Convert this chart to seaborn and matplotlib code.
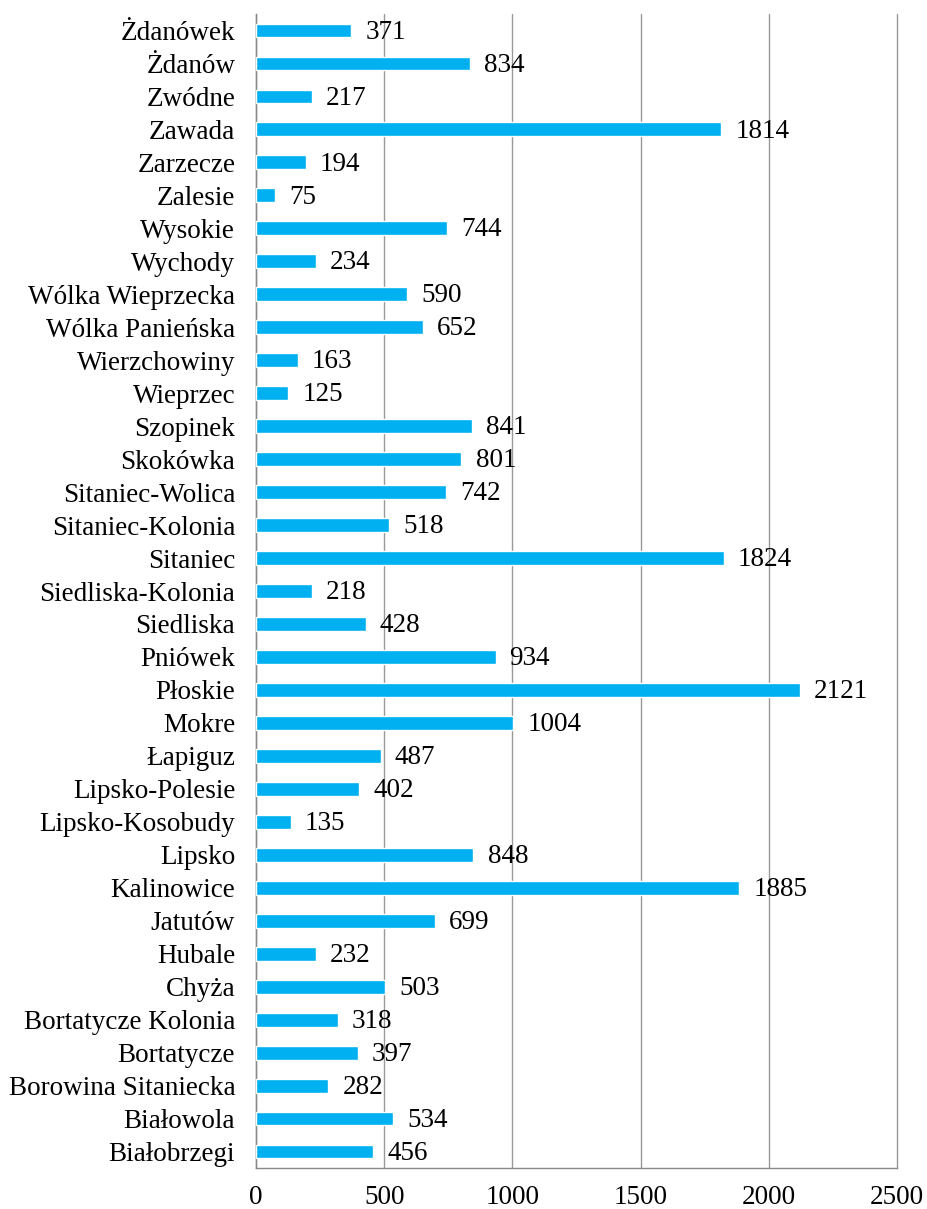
import seaborn as sns
import matplotlib.pyplot as plt
import matplotlib
import numpy as np
import pandas as pd

matplotlib.use('agg')

villages = ["Żdanówek", "Żdanów", "Zwódne", "Zawada", "Zarzecze", "Zalesie",
            "Wysokie", "Wychody", "Wólka Wieprzecka", "Wólka Panieńska",
            "Wierzchowiny", "Wieprzec", "Szopinek", "Skokówka", "Sitaniec-Wolica",
            "Sitaniec-Kolonia", "Sitaniec", "Siedliska-Kolonia", "Siedliska",
            "Pniówek", "Płoskie", "Mokre", "Łapiguz", "Lipsko-Polesie",
            "Lipsko-Kosobudy", "Lipsko", "Kalinowice", "Jatutów", "Hubale",
            "Chyża", "Bortatycze Kolonia", "Bortatycze", "Borowina Sitaniecka",
            "Białowola", "Białobrzegi"]
population = [371, 834, 217, 1814, 194, 75, 744, 234, 590, 652,
              163, 125, 841, 801, 742, 518, 1824, 218, 428, 934,
              2121, 1004, 487, 402, 135, 848, 1885, 699, 232, 503,
              318, 397, 282, 534, 456]
x_ticks = [0, 500, 1000, 1500, 2000, 2500]

df = pd.DataFrame({"village": villages, "population": population})

sns.set_style('white')
plt.rcParams['font.family'] = ['Liberation Serif', 'DejaVu Serif']
plt.rcParams['text.color'] = 'black'
plt.rcParams['xtick.color'] = 'black'
plt.rcParams['ytick.color'] = 'black'

FS = 19.5

fig = plt.figure(figsize=(9.28, 12.09), dpi=100)
ax = fig.add_axes([0.2759, 0.0339, 0.6907, 0.9545])

sns.barplot(data=df, x="population", y="village", orient="h", color="#00B0F0",
            saturation=1, width=0.42, ax=ax, zorder=3)

for i, v in enumerate(population):
    ax.text(v + 55, i + 0.05, str(v), va='center', ha='left', fontsize=FS,
            color='black', zorder=4)

ax.set_xlim(0, 2500)
ax.set_ylim(len(villages) - 0.5, -0.5)
ax.set_xticks(x_ticks)
ax.set_xticklabels([str(t) for t in x_ticks], fontsize=FS)
ax.tick_params(axis='y', which='major', length=0, labelsize=FS, pad=15, labelcolor='black')
ax.set_yticks(np.arange(-0.5, len(villages), 1), minor=True)
ax.tick_params(axis='y', which='minor', length=6, color='#888888', width=1, direction='out')
ax.tick_params(axis='x', length=6, color='#888888', width=1, direction='out', pad=6,
               labelcolor='black')
ax.yaxis.grid(False, which='both')
ax.xaxis.grid(True, color='#999999', linewidth=1, zorder=0)
for gl in ax.get_xgridlines():
    gl.set_clip_on(False)
ax.set_axisbelow(True)
ax.set_xlabel('')
ax.set_ylabel('')
for s in ['top', 'right']:
    ax.spines[s].set_visible(False)
for s in ['left', 'bottom']:
    ax.spines[s].set_color('#888888')
    ax.spines[s].set_linewidth(1)

fig.savefig('out.png', dpi=100)
plt.close(fig)
